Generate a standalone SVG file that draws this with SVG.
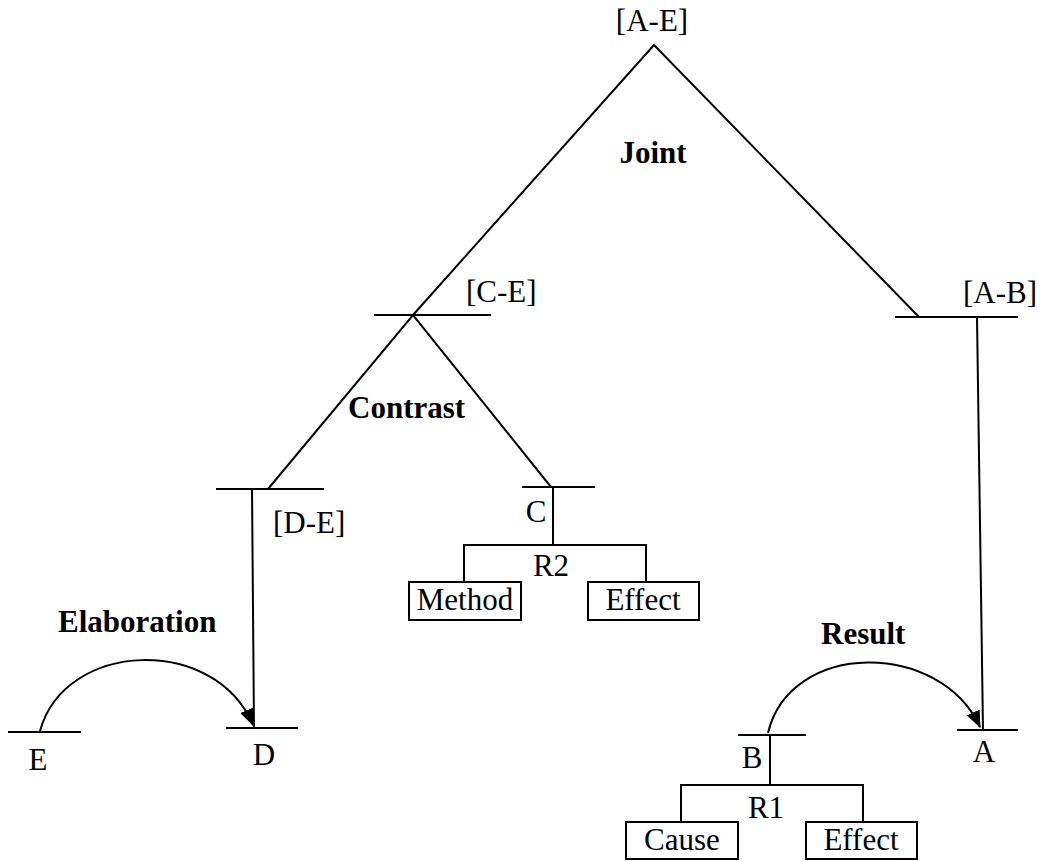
<svg xmlns="http://www.w3.org/2000/svg" width="1040" height="861" viewBox="0 0 1040 861">
<style>
.l{stroke:#000;stroke-width:2;fill:none}
.b{stroke:#000;stroke-width:2;fill:#fff}
.t{font-family:"Liberation Serif","Times New Roman",serif;font-size:31px;fill:#000}
.r{font-family:"Liberation Serif","Times New Roman",serif;font-size:31px;font-weight:bold;fill:#000}
.m{text-anchor:middle}
</style>
<defs>
<marker id="arr" markerUnits="userSpaceOnUse" markerWidth="18" markerHeight="14" refX="16" refY="7" orient="auto">
<path d="M0,0 L17,7 L0,14 Z" fill="#000"/>
</marker>
</defs>
<rect width="1040" height="861" fill="#fff"/>
<g id="connectors">
<path class="l" d="M413,315 L654,45 L919,317"/>
<path class="l" d="M268,489 L413,315 L551,487"/>
<path class="l" d="M977,317 L983,730"/>
<path class="l" d="M252,489 L254,728"/>
<path class="l" d="M553,487 V545 M464,582 V545 H646 V582"/>
<path class="l" d="M770,735 V785 M681,822 V785 H863 V822"/>
<path class="l" d="M40,731 C65,640 215,635 253,725" marker-end="url(#arr)"/>
<path class="l" d="M768,733 C790,640 940,640 980,727" marker-end="url(#arr)"/>
</g>
<g id="node-AE"><text class="t m" x="652" y="31">[A-E]</text></g>
<g id="rel-joint"><text class="r m" x="653" y="163">Joint</text></g>
<g id="node-CE"><line class="l" x1="374" y1="315" x2="491" y2="315"/><text class="t" x="466" y="302">[C-E]</text></g>
<g id="node-AB"><line class="l" x1="895" y1="317" x2="1018" y2="317"/><text class="t" x="963" y="303">[A-B]</text></g>
<g id="rel-contrast"><text class="r" x="348" y="418">Contrast</text></g>
<g id="node-DE"><line class="l" x1="216" y1="489" x2="324" y2="489"/><text class="t" x="273" y="533">[D-E]</text></g>
<g id="node-C"><line class="l" x1="522" y1="487" x2="595" y2="487"/><text class="t m" x="536" y="522">C</text></g>
<g id="rel-R2"><text class="t m" x="551" y="576">R2</text></g>
<g id="node-method"><rect class="b" x="409" y="582" width="112" height="38"/><text class="t m" x="465" y="610">Method</text></g>
<g id="node-effect2"><rect class="b" x="588" y="582" width="111" height="38"/><text class="t m" x="643" y="610">Effect</text></g>
<g id="rel-elaboration"><text class="r" x="58" y="632">Elaboration</text></g>
<g id="node-E"><line class="l" x1="8" y1="732" x2="81" y2="732"/><text class="t m" x="38" y="770">E</text></g>
<g id="node-D"><line class="l" x1="226" y1="728" x2="298" y2="728"/><text class="t m" x="264" y="765">D</text></g>
<g id="rel-result"><text class="r" x="821" y="644">Result</text></g>
<g id="node-B"><line class="l" x1="738" y1="735" x2="806" y2="735"/><text class="t m" x="752" y="768">B</text></g>
<g id="node-A"><line class="l" x1="957" y1="730" x2="1018" y2="730"/><text class="t m" x="984" y="762">A</text></g>
<g id="rel-R1"><text class="t m" x="766" y="818">R1</text></g>
<g id="node-cause"><rect class="b" x="626" y="822" width="112" height="37"/><text class="t m" x="682" y="850">Cause</text></g>
<g id="node-effect1"><rect class="b" x="806" y="822" width="111" height="37"/><text class="t m" x="861" y="850">Effect</text></g>
</svg>
